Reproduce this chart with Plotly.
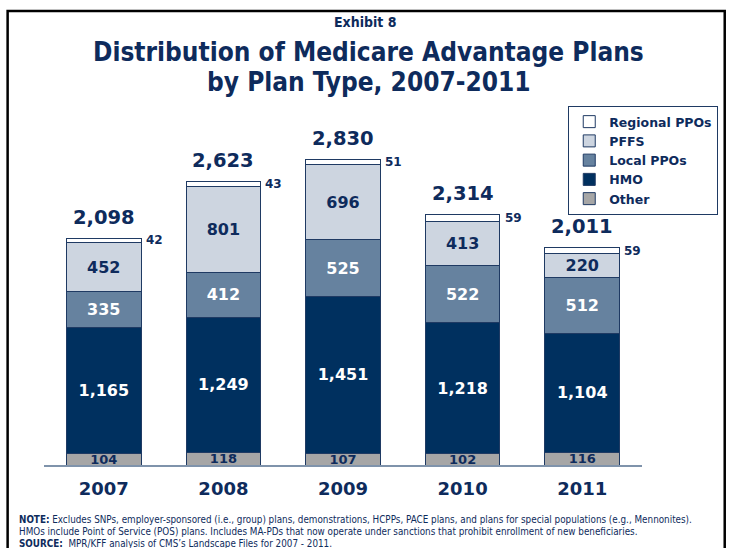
import plotly.graph_objects as go

years = ["2007", "2008", "2009", "2010", "2011"]
other = [104, 118, 107, 102, 116]
hmo = [1165, 1249, 1451, 1218, 1104]
local_ppos = [335, 412, 525, 522, 512]
pffs = [452, 801, 696, 413, 220]
regional_ppos = [42, 43, 51, 59, 59]
totals = [2098, 2623, 2830, 2314, 2011]

NAVY = "#0e2b5c"
OUT = "#1f3a63"
FONT = "DejaVu Sans"
CFONT = "DejaVu Sans Condensed, DejaVu Sans"

W, H = 730, 548
L, R, T, B = 44, 86, 100, 83
PW, PH = W - L - R, H - T - B


def px2x(px):
    return (px - L) / PW


def py2y(py):
    return (H - B - py) / PH


def fmt(v):
    return f"{v:,}"


fig = go.Figure()
series = [
    ("Other", other, "#a6a6a6", NAVY, 13),
    ("HMO", hmo, "#00305f", "white", 16),
    ("Local PPOs", local_ppos, "#66829f", "white", 16),
    ("PFFS", pffs, "#cdd5e0", NAVY, 16),
    ("Regional PPOs", regional_ppos, "white", NAVY, 12),
]
for name, vals, col, tcol, fs in series:
    show_text = name != "Regional PPOs"
    fig.add_trace(go.Bar(
        name=name, x=years, y=vals,
        marker=dict(color=col, line=dict(color=OUT, width=1)),
        text=[fmt(v) for v in vals] if show_text else None,
        textposition="inside" if show_text else "none",
        insidetextanchor="middle",
        constraintext="none",
        textfont=dict(family=FONT, size=fs, color=tcol, weight="bold"),
        hoverinfo="skip",
    ))

annotations = []
for i, (tot, reg) in enumerate(zip(totals, regional_ppos)):
    annotations.append(dict(
        x=i, y=tot, xref="x", yref="y", text=fmt(tot), showarrow=False,
        yshift=21, yanchor="middle",
        font=dict(family=FONT, size=19.5, color=NAVY, weight="bold"),
    ))
    annotations.append(dict(
        x=i, y=tot - reg / 2, xref="x", yref="y", text=fmt(reg), showarrow=False,
        xshift=40, xanchor="left", yanchor="middle",
        font=dict(family=FONT, size=12, color=NAVY, weight="bold"),
    ))

annotations += [
    dict(x=px2x(367), y=py2y(22), xref="paper", yref="paper", text="<b>Exhibit 8</b>",
         showarrow=False, xanchor="center", yanchor="middle",
         font=dict(family=CFONT, size=14, color=NAVY)),
    dict(x=px2x(370), y=py2y(52), xref="paper", yref="paper",
         text="<b>Distribution of Medicare Advantage Plans</b>",
         showarrow=False, xanchor="center", yanchor="middle",
         font=dict(family=CFONT, size=26, color=NAVY)),
    dict(x=px2x(370), y=py2y(82), xref="paper", yref="paper",
         text="<b>by Plan Type, 2007-2011</b>",
         showarrow=False, xanchor="center", yanchor="middle",
         font=dict(family=CFONT, size=26, color=NAVY)),
    dict(x=px2x(17), y=py2y(519), xref="paper", yref="paper",
         text="<b>NOTE:</b> Excludes SNPs, employer-sponsored (i.e., group) plans, demonstrations, HCPPs, PACE plans, and plans for special populations (e.g., Mennonites).",
         showarrow=False, xanchor="left", yanchor="middle",
         font=dict(family=CFONT, size=9.8, color=NAVY)),
    dict(x=px2x(17), y=py2y(531.5), xref="paper", yref="paper",
         text="HMOs include Point of Service (POS) plans. Includes MA-PDs that now operate under sanctions that prohibit enrollment of new beneficiaries.",
         showarrow=False, xanchor="left", yanchor="middle",
         font=dict(family=CFONT, size=9.8, color=NAVY)),
    dict(x=px2x(17), y=py2y(543), xref="paper", yref="paper",
         text="<b>SOURCE:</b>  MPR/KFF analysis of CMS\u2019s Landscape Files for 2007 - 2011.",
         showarrow=False, xanchor="left", yanchor="middle",
         font=dict(family=CFONT, size=9.8, color=NAVY)),
]

shapes = [
    dict(type="rect", xref="paper", yref="paper",
         x0=px2x(7.5), x1=px2x(727), y0=py2y(575), y1=py2y(11),
         line=dict(color="black", width=2.5), fillcolor="rgba(0,0,0,0)", layer="above"),
]

fig.update_layout(
    width=W, height=H,
    margin=dict(l=L, r=R, t=T, b=B),
    barmode="stack", bargap=0.375,
    plot_bgcolor="white", paper_bgcolor="white",
    showlegend=True,
    legend=dict(
        traceorder="reversed",
        x=px2x(570), y=py2y(106), xanchor="left", yanchor="top",
        bgcolor="white", bordercolor=OUT, borderwidth=1,
        font=dict(family=FONT, size=12.5, color=NAVY, weight="bold"),
        itemwidth=30, tracegroupgap=0,
    ),
    xaxis=dict(
        type="category", range=[-0.5, 4.5],
        showline=True, linecolor="#7f93ab", linewidth=2,
        ticks="", showgrid=False, zeroline=False,
        tickfont=dict(family=FONT, size=18, color=NAVY, weight="bold"),
        ticklabelstandoff=6,
    ),
    yaxis=dict(range=[0, 3376], visible=False, showgrid=False, zeroline=False),
    annotations=annotations,
    shapes=shapes,
)

fig.write_html("out.html")
